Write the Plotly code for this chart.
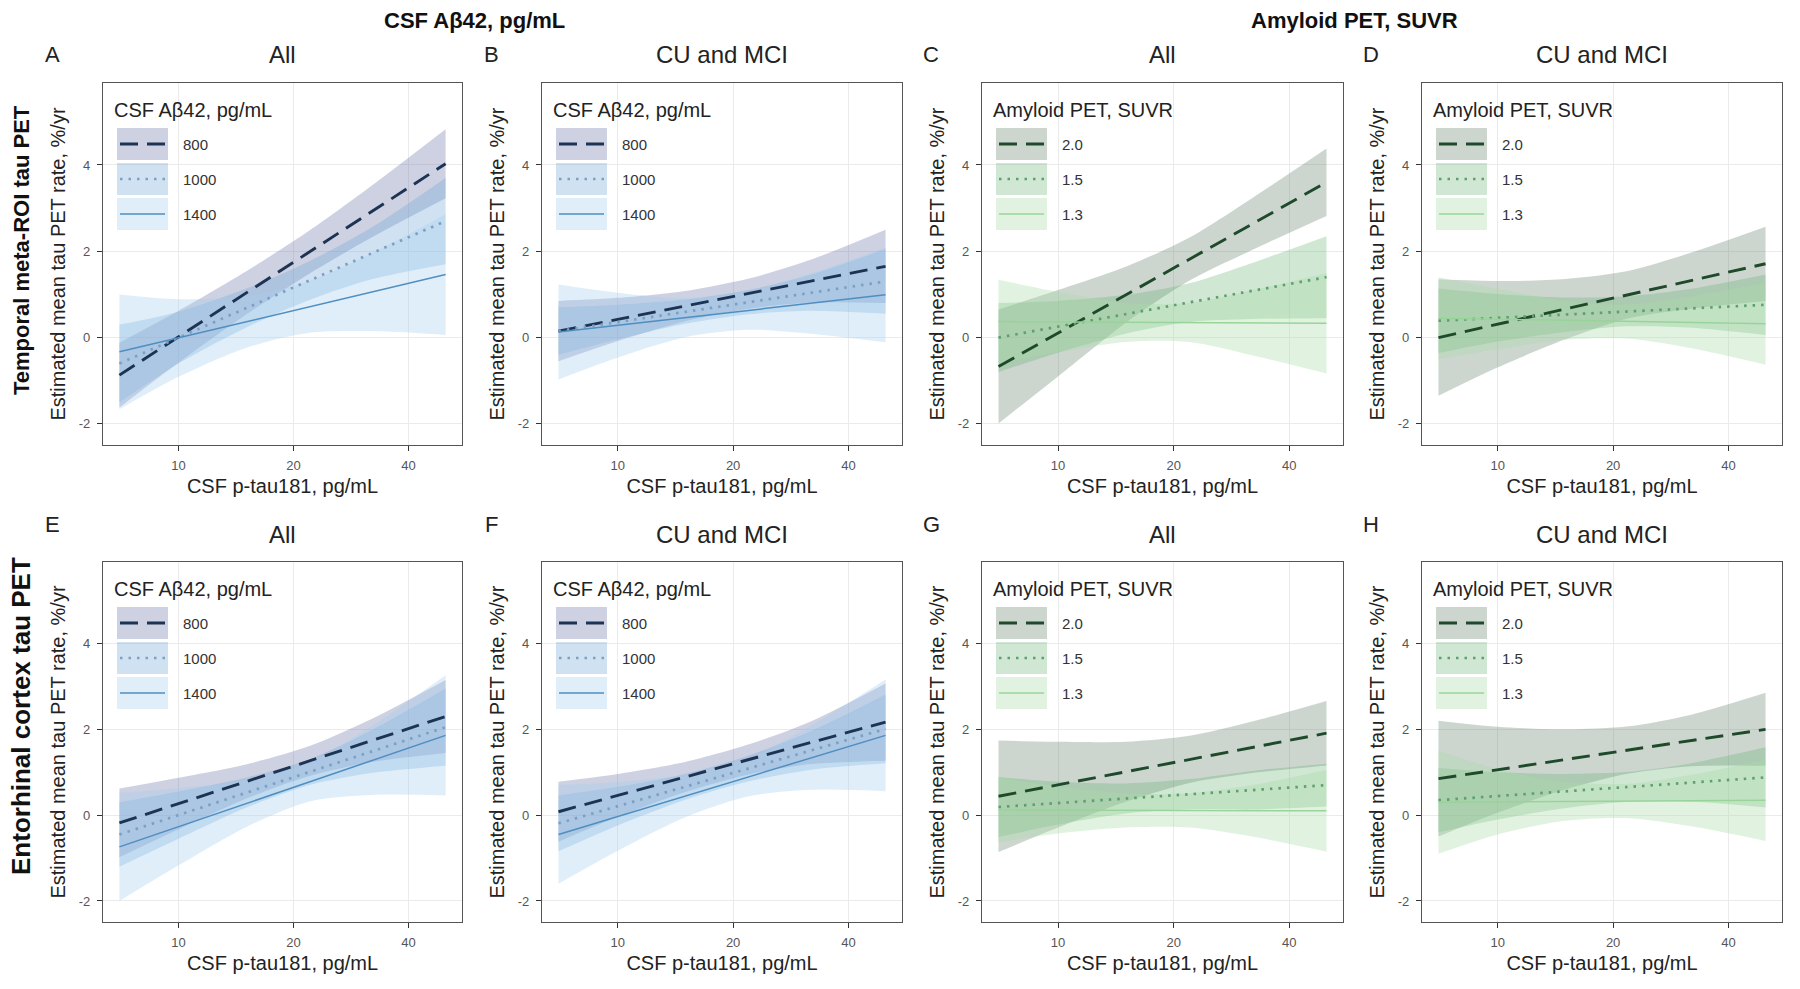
import math
import plotly.graph_objects as go

# ---------------- data ----------------
line_x = [7, 50]                       # CSF p-tau181 at the ends of each fitted line
band_x = [7, 10, 15, 22, 32, 50]       # points where the CI ribbons were read

csf_levels = ["800", "1000", "1400"]
pet_levels = ["2.0", "1.5", "1.3"]
csf_legend_title = "CSF Aβ42, pg/mL"
pet_legend_title = "Amyloid PET, SUVR"

# Panel A: temporal meta-ROI, CSF Aβ42, All
A_mean = [[-0.87, 4.03], [-0.60, 2.70], [-0.33, 1.46]]
A_lower = [[-1.62, -0.58, 0.53, 1.48, 2.32, 3.23],
           [-1.50, -0.60, 0.23, 0.87, 1.35, 1.70],
           [-1.66, -0.91, -0.24, 0.11, 0.15, 0.06]]
A_upper = [[-0.12, 0.62, 1.53, 2.48, 3.52, 4.83],
           [0.30, 0.60, 1.13, 1.77, 2.55, 3.70],
           [1.00, 0.89, 0.96, 1.31, 1.95, 2.86]]

# Panel B: temporal meta-ROI, CSF Aβ42, CU and MCI
B_mean = [[0.15, 1.65], [0.15, 1.30], [0.13, 0.99]]
B_lower = [[-0.55, -0.08, 0.38, 0.67, 0.81, 0.80],
           [-0.40, -0.04, 0.32, 0.54, 0.62, 0.55],
           [-0.97, -0.46, 0.01, 0.18, 0.09, -0.11]]
B_upper = [[0.85, 0.92, 1.08, 1.37, 1.81, 2.50],
           [0.70, 0.76, 0.88, 1.10, 1.46, 2.05],
           [1.23, 1.04, 0.91, 1.08, 1.49, 2.09]]

# Panel C: temporal meta-ROI, amyloid PET, All
C_mean = [[-0.67, 3.60], [0.00, 1.40], [0.37, 0.33]]
C_lower = [[-1.99, -0.90, 0.34, 1.32, 2.03, 2.82],
           [-0.80, -0.35, 0.09, 0.36, 0.43, 0.45],
           [-0.60, -0.34, -0.10, -0.10, -0.41, -0.83]]
C_upper = [[0.65, 1.10, 1.64, 2.32, 3.23, 4.38],
           [0.80, 0.85, 0.99, 1.26, 1.73, 2.35],
           [1.34, 1.06, 0.80, 0.80, 1.09, 1.49]]

# Panel D: temporal meta-ROI, amyloid PET, CU and MCI
D_mean = [[0.00, 1.71], [0.39, 0.76], [0.45, 0.32]]
D_lower = [[-1.35, -0.69, -0.04, 0.45, 0.67, 0.85],
           [-0.36, -0.09, 0.13, 0.26, 0.23, 0.06],
           [-0.50, -0.27, -0.05, -0.03, -0.25, -0.63]]
D_upper = [[1.35, 1.31, 1.36, 1.55, 1.97, 2.57],
           [1.14, 1.01, 0.93, 0.96, 1.13, 1.46],
           [1.40, 1.13, 0.85, 0.77, 0.95, 1.27]]

# Panel E: entorhinal, CSF Aβ42, All
E_mean = [[-0.18, 2.30], [-0.45, 2.05], [-0.74, 1.86]]
E_lower = [[-0.98, -0.33, 0.38, 0.91, 1.24, 1.45],
           [-1.20, -0.55, 0.17, 0.70, 0.98, 1.15],
           [-2.00, -1.17, -0.28, 0.32, 0.47, 0.46]]
E_upper = [[0.62, 0.87, 1.18, 1.61, 2.24, 3.15],
           [0.30, 0.55, 0.87, 1.30, 1.98, 2.95],
           [0.52, 0.63, 0.82, 1.22, 2.07, 3.26]]

# Panel F: entorhinal, CSF Aβ42, CU and MCI
F_mean = [[0.08, 2.17], [-0.19, 2.01], [-0.45, 1.86]]
F_lower = [[-0.62, -0.04, 0.54, 0.95, 1.19, 1.27],
           [-0.84, -0.24, 0.36, 0.79, 1.06, 1.21],
           [-1.60, -0.83, -0.05, 0.44, 0.59, 0.56]]
F_upper = [[0.78, 0.96, 1.24, 1.65, 2.19, 3.07],
           [0.46, 0.66, 0.96, 1.39, 1.96, 2.81],
           [0.70, 0.77, 0.95, 1.34, 2.09, 3.16]]

# Panel G: entorhinal, amyloid PET, All
G_mean = [[0.44, 1.91], [0.19, 0.70], [0.12, 0.10]]
G_lower = [[-0.86, -0.29, 0.31, 0.75, 0.98, 1.16],
           [-0.51, -0.22, 0.04, 0.14, 0.13, 0.20],
           [-0.63, -0.43, -0.29, -0.29, -0.50, -0.85]]
G_upper = [[1.74, 1.71, 1.71, 1.85, 2.18, 2.66],
           [0.89, 0.78, 0.74, 0.84, 1.03, 1.20],
           [0.87, 0.67, 0.51, 0.51, 0.70, 1.05]]

# Panel H: entorhinal, amyloid PET, CU and MCI
H_mean = [[0.85, 2.00], [0.35, 0.88], [0.30, 0.35]]
H_lower = [[-0.50, 0.06, 0.60, 0.97, 1.14, 1.15],
           [-0.40, -0.10, 0.16, 0.31, 0.31, 0.18],
           [-0.90, -0.45, -0.13, -0.07, -0.26, -0.60]]
H_upper = [[2.20, 2.06, 2.00, 2.07, 2.34, 2.85],
           [1.10, 1.00, 0.96, 1.01, 1.21, 1.58],
           [1.50, 1.07, 0.77, 0.73, 0.94, 1.30]]

panel_letters = ["A", "B", "C", "D", "E", "F", "G", "H"]
panel_titles = ["All", "CU and MCI", "All", "CU and MCI",
                "All", "CU and MCI", "All", "CU and MCI"]
col_headers = ["CSF Aβ42, pg/mL", "Amyloid PET, SUVR"]
row_labels = ["Temporal meta-ROI tau PET", "Entorhinal cortex tau PET"]
x_title = "CSF p-tau181, pg/mL"
y_title = "Estimated mean tau PET rate, %/yr"
x_ticks = [10, 20, 40]
y_ticks = [-2, 0, 2, 4]

# ---------------- styles ----------------
W, H = 1800, 989
FONT = "Liberation Sans, Arial, Helvetica, sans-serif"
blue_lines = ["#1d3354", "#7d9fc2", "#4f8ec0"]
blue_fills = ["rgba(88,104,160,0.30)", "rgba(110,165,215,0.32)", "rgba(165,205,238,0.35)"]
green_lines = ["#1e4a2b", "#5f9f6e", "#98d49a"]
green_fills = ["rgba(85,120,95,0.30)", "rgba(95,175,110,0.30)", "rgba(170,222,165,0.35)"]
dashes = ["18px,9px", "2.5px,6px", "solid"]
widths = [2.9, 2.7, 1.5]

cols_px = [(103, 462), (542, 902), (982, 1343), (1422, 1782)]
rows_px = [(83, 445), (562, 922)]
row_label_px = [(21, 250, 22), (21, 716, 26)]   # x, y centre, font size

panels = [
    (A_mean, A_lower, A_upper, "csf"), (B_mean, B_lower, B_upper, "csf"),
    (C_mean, C_lower, C_upper, "pet"), (D_mean, D_lower, D_upper, "pet"),
    (E_mean, E_lower, E_upper, "csf"), (F_mean, F_lower, F_upper, "csf"),
    (G_mean, G_lower, G_upper, "pet"), (H_mean, H_lower, H_upper, "pet"),
]

fig = go.Figure()
layout = dict(
    width=W, height=H, margin=dict(l=0, r=0, t=0, b=0),
    paper_bgcolor="white", plot_bgcolor="white", showlegend=False,
    font=dict(family=FONT, color="#222222"),
)
annotations = []
shapes = []

x_range = [math.log10(6.34), math.log10(55.2)]
y_range = [-2.49, 5.9]

for i, (means, lowers, uppers, kind) in enumerate(panels):
    n = i + 1
    sfx = "" if n == 1 else str(n)
    r, c = divmod(i, 4)
    x0, x1 = cols_px[c]
    y0, y1 = rows_px[r]
    pw, ph = x1 - x0, y1 - y0
    xa, ya = "x" + sfx, "y" + sfx
    lines = blue_lines if kind == "csf" else green_lines
    fills = blue_fills if kind == "csf" else green_fills
    levels = csf_levels if kind == "csf" else pet_levels
    leg_title = csf_legend_title if kind == "csf" else pet_legend_title

    # ribbons
    for k in range(3):
        fig.add_trace(go.Scatter(x=band_x, y=lowers[k], xaxis=xa, yaxis=ya, mode="lines",
                                 line=dict(width=0, shape="spline", smoothing=0.8),
                                 hoverinfo="skip", showlegend=False))
        fig.add_trace(go.Scatter(x=band_x, y=uppers[k], xaxis=xa, yaxis=ya, mode="lines",
                                 line=dict(width=0, shape="spline", smoothing=0.8),
                                 fill="tonexty", fillcolor=fills[k],
                                 name=levels[k] + " CI", hoverinfo="skip", showlegend=False))
    # fitted lines
    for k in range(3):
        fig.add_trace(go.Scatter(x=line_x, y=means[k], xaxis=xa, yaxis=ya, mode="lines",
                                 line=dict(color=lines[k], width=widths[k], dash=dashes[k]),
                                 name=levels[k], showlegend=False))

    layout["xaxis" + sfx] = dict(
        domain=[x0 / W, x1 / W], anchor=ya, type="log", range=x_range,
        tickvals=x_ticks, ticktext=[str(v) for v in x_ticks],
        ticks="outside", ticklen=5, tickwidth=1.2, tickcolor="#333333",
        tickfont=dict(size=13, color="#555555"), ticklabelstandoff=3,
        showline=True, mirror=True, linecolor="#555555", linewidth=1.2,
        showgrid=True, gridcolor="#ebebeb", gridwidth=1, zeroline=False,
        title=dict(text=x_title, font=dict(size=20, color="#222222"), standoff=7),
    )
    layout["yaxis" + sfx] = dict(
        domain=[1 - y1 / H, 1 - y0 / H], anchor=xa, range=y_range,
        tickvals=y_ticks, ticktext=[str(v) for v in y_ticks],
        ticks="outside", ticklen=5, tickwidth=1.2, tickcolor="#333333",
        tickfont=dict(size=13, color="#555555"), ticklabelstandoff=4,
        showline=True, mirror=True, linecolor="#555555", linewidth=1.2,
        showgrid=True, gridcolor="#ebebeb", gridwidth=1, zeroline=False,
        title=dict(text=y_title, font=dict(size=20, color="#222222"), standoff=7),
    )

    # panel letter and title
    letter_y = 55 if r == 0 else 524
    annotations.append(dict(text=panel_letters[i], xref="paper", yref="paper",
                            x=(x0 - 51) / W, y=1 - letter_y / H, showarrow=False,
                            xanchor="center", yanchor="middle",
                            font=dict(size=22, color="#222222")))
    annotations.append(dict(text=panel_titles[i], xref="paper", yref="paper",
                            x=(x0 + x1) / 2 / W, y=1 - (y0 - 28) / H, showarrow=False,
                            xanchor="center", yanchor="middle",
                            font=dict(size=24, color="#222222")))

    # in-panel legend (ggplot style keys)
    dx = "x domain" if n == 1 else f"x{n} domain"
    dy = "y domain" if n == 1 else f"y{n} domain"
    annotations.append(dict(text=leg_title, xref=dx, yref=dy,
                            x=9 / pw, y=1 - 27 / ph, showarrow=False,
                            xanchor="left", yanchor="middle",
                            font=dict(size=20, color="#222222")))
    for k in range(3):
        top = 45 + 35 * k
        bot = top + 32
        shapes.append(dict(type="rect", xref=dx, yref=dy, x0=14 / pw, x1=65 / pw,
                           y0=1 - bot / ph, y1=1 - top / ph,
                           fillcolor=fills[k], line=dict(width=0), layer="above"))
        yc = 1 - (top + 16) / ph
        shapes.append(dict(type="line", xref=dx, yref=dy, x0=17 / pw, x1=62 / pw,
                           y0=yc, y1=yc, layer="above",
                           line=dict(color=lines[k], width=widths[k], dash=dashes[k])))
        annotations.append(dict(text=levels[k], xref=dx, yref=dy, x=78 / pw, y=yc,
                                showarrow=False, xanchor="left", yanchor="middle",
                                font=dict(size=15, color="#333333")))

# column headers and row labels
for j, txt in enumerate(col_headers):
    cx = (cols_px[2 * j][0] - 48 + cols_px[2 * j + 1][1]) / 2 - 4
    annotations.append(dict(text="<b>" + txt + "</b>", xref="paper", yref="paper",
                            x=cx / W, y=1 - 20 / H, showarrow=False,
                            xanchor="center", yanchor="middle",
                            font=dict(size=22, color="#111111")))
for j, txt in enumerate(row_labels):
    lx, ly, ls = row_label_px[j]
    annotations.append(dict(text="<b>" + txt + "</b>", xref="paper", yref="paper",
                            x=lx / W, y=1 - ly / H, showarrow=False, textangle=-90,
                            xanchor="center", yanchor="middle",
                            font=dict(size=ls, color="#111111")))

layout["annotations"] = annotations
layout["shapes"] = shapes
fig.update_layout(**layout)
fig.write_html("out.html", config={"displayModeBar": False},
               post_script="document.body.style.margin='0px';document.body.style.overflow='hidden';")
